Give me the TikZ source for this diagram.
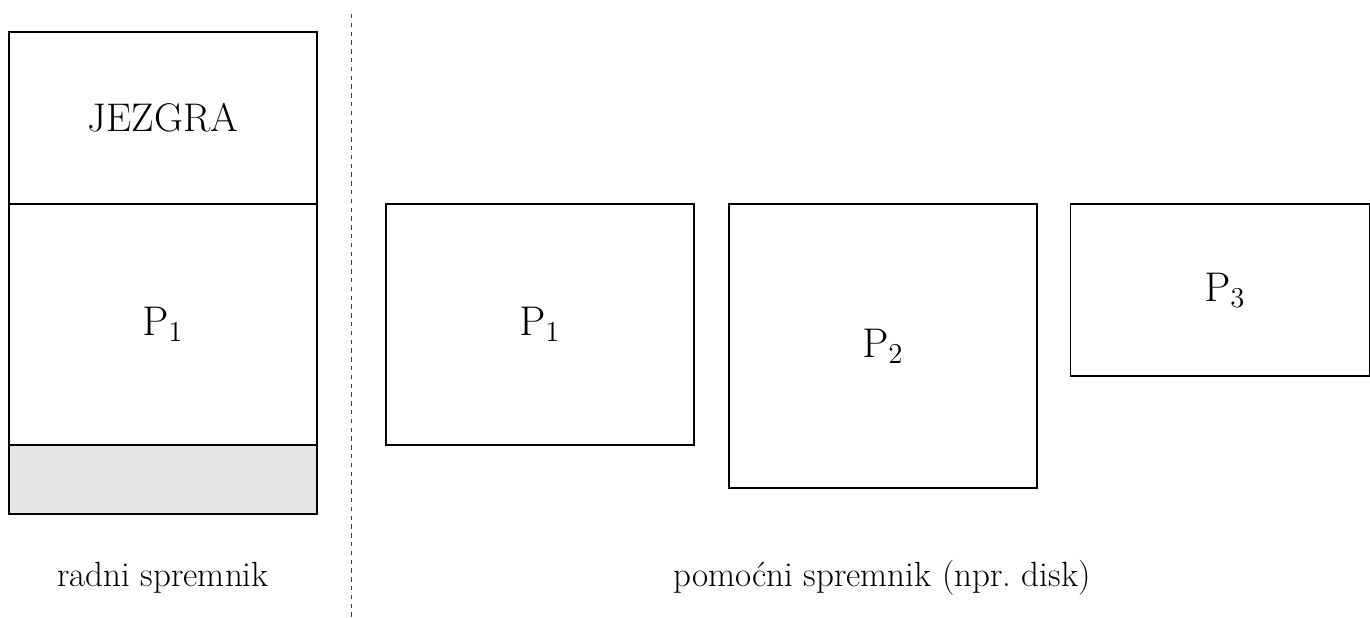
\documentclass[tikz,border=0pt]{standalone}
\begin{document}
\begin{tikzpicture}[x=0.5pt,y=-0.5pt,
  box/.style={draw, line width=0.6pt, inner sep=0pt, font=\fontsize{20}{24}\selectfont},
  lbl/.style={inner sep=0pt, font=\fontsize{17.5}{21}\selectfont},
  sep/.style={draw=black!75, line width=0.5pt, dash pattern=on 2.2pt off 2.2pt}]
\useasboundingbox (0,0) rectangle (1370,617);
% working memory
\node[box, minimum width=154pt, minimum height=86pt] (kern) at (163,118) {JEZGRA};
\node[box, minimum width=154pt, minimum height=120.5pt] (mp1) at (163,324.5) {$\mathrm{P}_1$};
\node[box, fill=black!10, minimum width=154pt, minimum height=34.5pt] (free) at (163,479.5) {};
% separator
\coordinate (stop) at (351,14);
\coordinate (sbot) at (351,617);
\draw[sep] (stop) -- (sbot);
% disk
\node[box, minimum width=154pt, minimum height=120.5pt] (dp1) at (540,324.5) {$\mathrm{P}_1$};
\node[box, minimum width=154pt, minimum height=142pt] (dp2) at (883,346) {$\mathrm{P}_2$};
\node[box, minimum width=149.5pt, minimum height=86pt] (dp3) at (1220.25,290) {\hspace*{4.75pt}$\mathrm{P}_3$};
% labels
\node[lbl] (lwork) at (163,578) {radni spremnik};
\node[lbl] (ldisk) at (882,578) {pomoćni spremnik (npr.\ disk)};
\end{tikzpicture}
\end{document}
